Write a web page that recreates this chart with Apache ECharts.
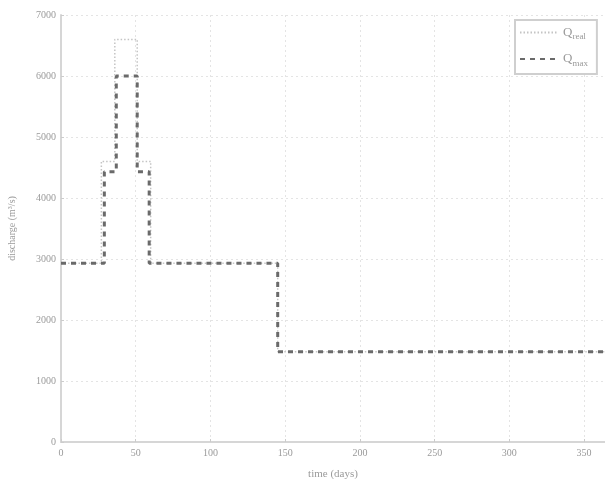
<!DOCTYPE html>
<html>
<head>
<meta charset="utf-8">
<script src="https://cdn.jsdelivr.net/npm/echarts@6/dist/echarts.min.js"></script>
<style>
  html, body { margin: 0; padding: 0; background: #fff; }
  #chart { width: 605px; height: 479px; }
</style>
</head>
<body>
<div id="chart"></div>
<script>
// step changes: [day, discharge]
var realDays = [0, 27, 36, 51, 60, 145, 365];
var realFlow = [2930, 4600, 6600, 4600, 2930, 1480, 1480];
var maxDays = [0, 29, 37, 51, 59, 145, 365];
var maxFlow = [2930, 4430, 6000, 4430, 2930, 1480, 1480];
var xTicks = [0, 50, 100, 150, 200, 250, 300, 350];

function pairs(xs, ys) {
    var out = [];
    for (var i = 0; i < xs.length; i++) {
        out.push([xs[i], ys[i]]);
    }
    return out;
}

var txt = '#9a9a9a';
var chart = echarts.init(document.getElementById('chart'));

chart.setOption({
    animation: false,
    backgroundColor: '#fff',
    textStyle: { fontFamily: 'Liberation Serif' },
    grid: { left: 61, right: 0, top: 15, bottom: 37, outerBoundsMode: 'none', containLabel: false },
    xAxis: {
        type: 'value', min: 0, max: 364, interval: 50,
        name: 'time (days)', nameLocation: 'middle', nameGap: 27,
        nameTextStyle: { color: txt, fontSize: 11 },
        axisLine: { show: true, lineStyle: { color: '#d6d6d6', width: 2 } },
        axisTick: { inside: true, length: 3, lineStyle: { color: '#ccc' } },
        axisLabel: { color: txt, fontSize: 10, margin: 6,
            formatter: function (v) { return xTicks.indexOf(v) >= 0 ? String(v) : ''; } },
        splitLine: { show: true, lineStyle: { color: '#e4e4e4', type: [2, 3] } }
    },
    yAxis: {
        type: 'value', min: 0, max: 7000, interval: 1000,
        name: 'discharge (m³/s)', nameLocation: 'middle', nameGap: 44,
        nameTextStyle: { color: txt, fontSize: 10 },
        axisLine: { show: true, lineStyle: { color: '#d6d6d6', width: 2 } },
        axisTick: { inside: true, length: 3, lineStyle: { color: '#ccc' } },
        axisLabel: { color: txt, fontSize: 10, margin: 5,
            formatter: function (v) { return String(v); } },
        splitLine: { show: true, lineStyle: { color: '#e4e4e4', type: [2, 3] } }
    },
    legend: {
        left: 515, top: 20,
        orient: 'vertical', itemGap: 11, itemWidth: 38, itemHeight: 12,
        padding: [6, 9, 6, 4],
        borderColor: '#cfcfcf', borderWidth: 2, backgroundColor: '#fff',
        itemStyle: { opacity: 0 },
        textStyle: {
            color: txt,
            rich: {
                q: { fontSize: 13, color: txt, fontFamily: 'Liberation Serif' },
                s: { fontSize: 9, color: txt, fontFamily: 'Liberation Serif', verticalAlign: 'bottom', padding: [9, 0, 0, 0] }
            }
        },
        formatter: function (name) {
            return '{q|Q}{s|' + name.split('_')[1] + '}';
        },
        data: ['Q_real', 'Q_max']
    },
    series: [
        {
            name: 'Q_real', type: 'line', step: 'end', symbol: 'none',
            lineStyle: { color: '#c4c4c4', width: 1.5, type: [1.5, 2] },
            itemStyle: { color: '#c4c4c4' },
            data: pairs(realDays, realFlow), z: 2
        },
        {
            name: 'Q_max', type: 'line', step: 'end', symbol: 'none',
            lineStyle: { color: '#6a6a6a', width: 3, type: [5, 5] },
            itemStyle: { color: '#6a6a6a' },
            data: pairs(maxDays, maxFlow), z: 3
        }
    ]
});
</script>
</body>
</html>
